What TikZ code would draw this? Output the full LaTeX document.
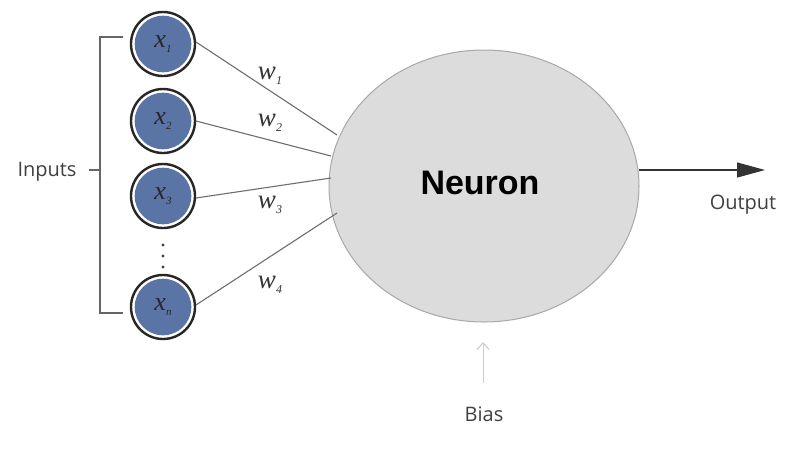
\documentclass[tikz,border=0pt]{standalone}
\usepackage{fontspec}
\setmainfont{Liberation Serif}
\setsansfont{Open Sans}
\newfontfamily\boldsans{Liberation Sans}
\usetikzlibrary{arrows.meta,shapes.geometric}
\definecolor{inputblue}{HTML}{5A74A6}
\definecolor{neurongray}{HTML}{DCDCDC}
\definecolor{neuronedge}{HTML}{A8A8A8}
\definecolor{wirecol}{HTML}{6E6E6E}
\newcommand{\invar}[1]{\fontsize{26}{26}\selectfont\itshape x\raisebox{-5pt}{\fontsize{11}{11}\selectfont\itshape #1}}
\newcommand{\wvar}[1]{w\raisebox{-5pt}{\fontsize{12}{12}\selectfont\itshape #1}}
\begin{document}
\begin{tikzpicture}[x=1pt,y=-1pt,
  inputnode/.style={circle,draw=black!85,line width=2.4pt,fill=white,
    minimum size=64pt,inner sep=0pt,text=black!85,
    path picture={\fill[inputblue] (path picture bounding box.center) circle (28.3pt);}},
  wire/.style={draw=wirecol,line width=1.1pt},
  wlabel/.style={font=\fontsize{27}{27}\selectfont\itshape,text=black!80},
  sidelabel/.style={font=\sffamily\fontsize{20}{20}\selectfont,text=black!75},
  bracket/.style={draw=black!60,line width=1.1pt}]
\useasboundingbox (0,0) rectangle (798,453);
\fill[white] (0,0) rectangle (798,453);

% inputs
\node[inputnode] (x1) at (163,44) {\invar{1}};
\node[inputnode] (x2) at (163,121) {\invar{2}};
\node[inputnode] (x3) at (163,196) {\invar{3}};
\node[inputnode] (xn) at (163,307) {\invar{n}};
\foreach \yy in {245,256,267} \fill[black!75] (163,\yy) circle (1.6pt);

% neuron body
\node[ellipse,draw=neuronedge,fill=neurongray,line width=1pt,
  minimum width=310pt,minimum height=272pt] (neuron) at (484,186) {};
\node[font=\boldsans\bfseries\fontsize{34}{34}\selectfont] at (480,183) {Neuron};

% weighted connections
\coordinate (e1) at (337,135);
\coordinate (e2) at (331,156);
\coordinate (e3) at (331,178);
\coordinate (e4) at (337,213);
\draw[wire] (x1) ++(33,-2) -- (e1);
\draw[wire] (x2) ++(33,0) -- (e2);
\draw[wire] (x3) ++(33,2) -- (e3);
\draw[wire] (xn) ++(33,-2) -- (e4);
\node[wlabel] at (270,76) {\wvar{1}};
\node[wlabel] at (270,123) {\wvar{2}};
\node[wlabel] at (270,205) {\wvar{3}};
\node[wlabel] at (270,285) {\wvar{4}};

% input bracket
\coordinate (bt) at (100,37);
\coordinate (bb) at (100,313);
\coordinate (bm) at (100,170);
\draw[bracket] (123,37) -- (bt) -- (bb) -- (123,313);
\node[sidelabel] (inputs) at (47,172) {Inputs};
\draw[bracket] (bm) -- (89,170);

% output
\coordinate (outstart) at (639,170);
\coordinate (outend) at (765,170);
\draw[draw=black!80,line width=1.2pt,-{Triangle[length=28pt,width=15pt]}] (outstart) -- (outend);
\node[sidelabel] at (743,205) {Output};

% bias
\node[sidelabel] (bias) at (484,414) {Bias};
\coordinate (biastip) at (483,342);
\draw[draw=black!20,line width=1pt,-{Straight Barb[length=7pt,width=12pt]}] (483,383) -- (biastip);
\end{tikzpicture}
\end{document}
